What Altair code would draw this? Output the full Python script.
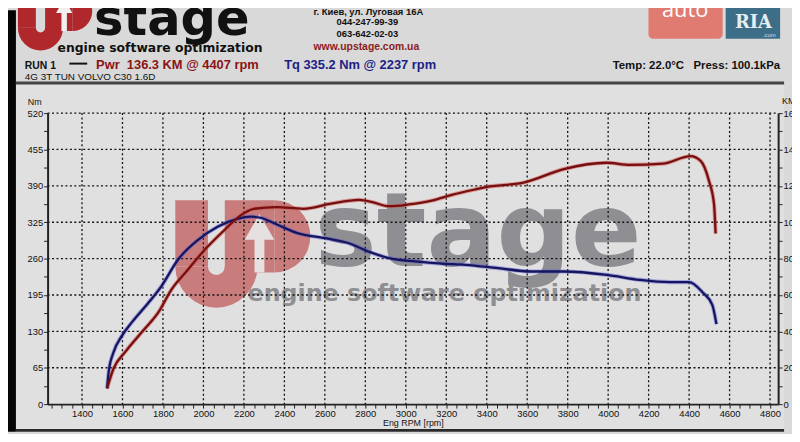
import math
import altair as alt
import pandas as pd

# ---------------- data read from the dyno sheet ----------------
rpm_torque = [1524, 1532, 1556, 1597, 1646, 1728, 1793, 1874, 1972, 2070, 2168, 2233,
              2282, 2363, 2461, 2608, 2722, 2820, 2917, 3048, 3178, 3293, 3456, 3619,
              3781, 3993, 4156, 4303, 4400, 4466, 4515, 4535]
torque_nm = [28, 58, 93, 122, 146, 181, 211, 258, 293, 317, 331, 335,
             333, 321, 306, 296, 287, 272, 261, 255, 251, 249, 243, 237,
             237, 231, 222, 218, 218, 200, 177, 143]

rpm_power = [1524, 1556, 1613, 1695, 1777, 1842, 1923, 2005, 2103, 2184, 2249, 2363,
             2494, 2624, 2771, 2836, 2917, 3015, 3129, 3227, 3341, 3391, 3586, 3781,
             3993, 4107, 4270, 4407, 4458, 4498, 4523, 4531]
power_km = [8.7, 19.6, 28.6, 39.5, 50.4, 63.0, 73.9, 84.7, 95.6, 103.8, 107.4, 108.3,
            107.4, 110.1, 112.3, 111.0, 108.8, 109.8, 111.9, 115.0, 118.0, 119.2, 121.9, 129.2,
            132.7, 131.5, 132.2, 136.3, 133.6, 122.8, 110.1, 93.8]

x_labels = [1400, 1600, 1800, 2000, 2200, 2400, 2600, 2800, 3000, 3200, 3400, 3600,
            3800, 4000, 4200, 4400, 4600, 4800]
nm_labels = [0, 65, 130, 195, 260, 325, 390, 455, 520]
km_labels = [0, 20, 40, 60, 80, 100, 120, 140, 160]

# ---------------- layout ----------------
X_DOMAIN = [1230, 4840]
W, H = 738, 294
OX, OY = 48, 112          # page position of the plot origin
PAD = {"left": 40, "top": 104, "right": 14, "bottom": 28}
NB = "\u00a0"

x_ticks = [1250 + 50 * i for i in range(72)]
nm_ticks = [32.5 * i for i in range(17)]
km_ticks = [10 * i for i in range(17)]

one = pd.DataFrame({"k": [0]})


def P(x):
    return alt.value(x - OX)


def Q(y):
    return alt.value(y - OY)


def box(x0, x1, y0, y1, color, **kw):
    return alt.Chart(one).mark_rect(color=color, **kw).encode(x=P(x0), x2=P(x1), y=Q(y0), y2=Q(y1))


def label(txt, x, y, size, color="#111111", weight="normal", align="left",
          font="Liberation Sans"):
    return alt.Chart(one).mark_text(text=txt, fontSize=size, color=color, fontWeight=weight,
                                    align=align, baseline="alphabetic", font=font
                                    ).encode(x=P(x), y=Q(y))


def logo(ox, oy, s, red, arrow):
    L = []

    def R(x0, x1, y0, y1, c):
        L.append(box(ox + x0 * s, ox + x1 * s, oy + y0 * s, oy + y1 * s, c))

    R(0, 33, 0, 67, red)
    R(50, 100, 0, 73, red)
    L.append(alt.Chart(one).mark_arc(color=red, radius=41.5 * s, radius2=8.5 * s,
                                     theta=math.pi / 2, theta2=3 * math.pi / 2
                                     ).encode(x=P(ox + 41.5 * s), y=Q(oy + 67 * s)))
    L.append(alt.Chart(one).mark_arc(color=red, radius=36.5 * s, theta=0, theta2=math.pi
                                     ).encode(x=P(ox + 100 * s), y=Q(oy + 36.5 * s)))
    R(80, 90, 34, 73, arrow)
    L.append(alt.Chart(one).mark_point(shape="triangle-up", filled=True, color=arrow, opacity=1,
                                       size=(30 * s) ** 2
                                       ).encode(x=P(ox + 85 * s), y=Q(oy + 27 * s)))
    return L


layers = []

# backgrounds
layers.append(box(16, 792, 83, 431, "#e0e0e0"))
layers.append(box(8, 16, 8, 434, "#050505"))
layers.append(box(16, 792, 80, 83, "#444444"))
layers.append(box(16, 792, 431, 434, "#2a2a2a"))

# header logo
layers += logo(18, -11, 0.55, "#b0282c", "#f0f0f0")
layers.append(label("stage", 95, 33, 50, color="#111111", weight="bold", font="DejaVu Sans"))
layers.append(label("engine software optimization", 58, 50, 12.5, color="#111111",
                    weight="bold", font="DejaVu Sans"))

# address block
layers.append(label("г. Киев, ул. Луговая 16А", 372, 12.5, 9.5, weight="bold", align="center"))
layers.append(label("044-247-99-39", 371, 23, 9.5, weight="bold", align="center"))
layers.append(label("063-642-02-03", 371, 35, 9.5, weight="bold", align="center"))
layers.append(label("www.upstage.com.ua", 370, 48, 10.5, color="#8b1d1d", weight="bold",
                    align="center"))

# auto RIA badge
layers.append(box(655, 730, 0, 37, "#e07b72", cornerRadius=5))
layers.append(box(733, 788, 0, 37, "#3d6e88"))
layers.append(label("auto", 692, 15, 22, color="#ffffff", align="center", font="Open Sans"))
layers.append(label("RIA", 761, 26, 18, color="#e6eef3", weight="bold", align="center",
                    font="DejaVu Serif"))
layers.append(label(".com", 777, 35, 6, color="#cfdce6", align="center"))

# run line
layers.append(label("RUN 1", 25, 67, 10.5, weight="bold"))
layers.append(alt.Chart(one).mark_rule(color="#111111", strokeWidth=2).encode(
    x=P(70), x2=P(88), y=Q(62)))
layers.append(label("Pwr" + NB + NB + "136.3 KM @ 4407 rpm", 97, 67, 13, color="#8a1414",
                    weight="bold"))
layers.append(label("Tq 335.2 Nm @ 2237 rpm", 287, 67, 13, color="#1e1e84", weight="bold"))
layers.append(label("Temp: 22.0°C" + NB * 3 + "Press: 100.1kPa", 788, 67, 11.5, weight="bold",
                    align="right"))
layers.append(label("4G 3T TUN VOLVO C30 1.6D", 25, 79, 10))

# axis unit titles
layers.append(label("Nm", 28, 104, 9))
layers.append(label("KM", 790, 103, 9))

# watermark
layers += logo(177, 200, 1.0, "#c97c7c", "#e6e0e0")
layers.append(label("stage", 318, 266, 105, color="#8e8e93", weight="bold", font="DejaVu Sans"))
layers.append(label("engine software optimization", 250, 302, 24, color="#8e8e93",
                    weight="bold", font="DejaVu Sans"))

# scales and axes
xs = alt.Scale(domain=X_DOMAIN, nice=False, zero=False)
nm_scale = alt.Scale(domain=[0, 520], nice=False)
km_scale = alt.Scale(domain=[0, 160], nice=False)

axis_common = dict(domainColor="#222222", domainWidth=2, tickColor="#222222", tickWidth=1,
                   tickSize=4, labelColor="#111111", labelFont="Liberation Sans",
                   labelFontSize=9.5, labelOverlap=False, labelFlush=False, grid=False,
                   zindex=1)

x_axis = alt.Axis(values=x_ticks, format="d",
                  labelExpr="datum.value % 200 === 0 ? datum.label : ''",
                  title="Eng RPM [rpm]", titleFont="Liberation Sans", titleFontSize=9,
                  titleFontWeight="normal", titleColor="#111111", titlePadding=0,
                  labelPadding=1, **axis_common)
nm_axis = alt.Axis(orient="left", values=nm_ticks,
                   labelExpr="datum.value % 65 === 0 ? datum.label : ''",
                   title=None, labelPadding=1, **axis_common)
km_axis = alt.Axis(orient="right", values=km_ticks,
                   labelExpr="datum.value % 20 === 0 ? datum.label : ''",
                   title=None, labelPadding=1, **axis_common)


def X(field):
    return alt.X(field, scale=xs, axis=x_axis, title="Eng RPM [rpm]")


# grid
layers.append(alt.Chart(pd.DataFrame({"rpm": x_labels})).mark_rule(
    color="#111111", strokeWidth=1.3, strokeDash=[2, 2.5]).encode(
    x=X("rpm:Q"), y=alt.value(0), y2=alt.value(H)))
layers.append(alt.Chart(pd.DataFrame({"v": nm_labels[1:]})).mark_rule(
    color="#111111", strokeWidth=1.3, strokeDash=[2, 2.5]).encode(
    y=alt.Y("v:Q", scale=nm_scale, axis=None), x=alt.value(0), x2=alt.value(W)))

df_tq = pd.DataFrame({"rpm": rpm_torque, "nm": torque_nm})
df_pw = pd.DataFrame({"rpm": rpm_power, "km": power_km})

tq_halo = alt.Chart(df_tq).mark_line(color="#5a5ad6", strokeWidth=4.2, opacity=0.45,
                                     interpolate="monotone").encode(
    x=X("rpm:Q"), y=alt.Y("nm:Q", scale=nm_scale, axis=None))
pw_halo = alt.Chart(df_pw).mark_line(color="#d2564e", strokeWidth=4.2, opacity=0.5,
                                     interpolate="monotone").encode(
    x=X("rpm:Q"), y=alt.Y("km:Q", scale=km_scale, axis=None))
tq_line = alt.Chart(df_tq).mark_line(color="#16165e", strokeWidth=2.3,
                                     interpolate="monotone").encode(
    x=X("rpm:Q"), y=alt.Y("nm:Q", scale=nm_scale, axis=nm_axis))
pw_line = alt.Chart(df_pw).mark_line(color="#761010", strokeWidth=2.3,
                                     interpolate="monotone").encode(
    x=X("rpm:Q"), y=alt.Y("km:Q", scale=km_scale, axis=km_axis))

layers += [tq_halo, pw_halo, tq_line, pw_line]

chart = alt.layer(*layers).resolve_scale(y="independent").properties(
    width=W, height=H, padding=PAD,
    autosize=alt.AutoSizeParams(type="none"),
    background="#d9d9d9",
).configure_view(stroke=None)

chart.save("out.html", embed_options={"renderer": "svg", "actions": False})
